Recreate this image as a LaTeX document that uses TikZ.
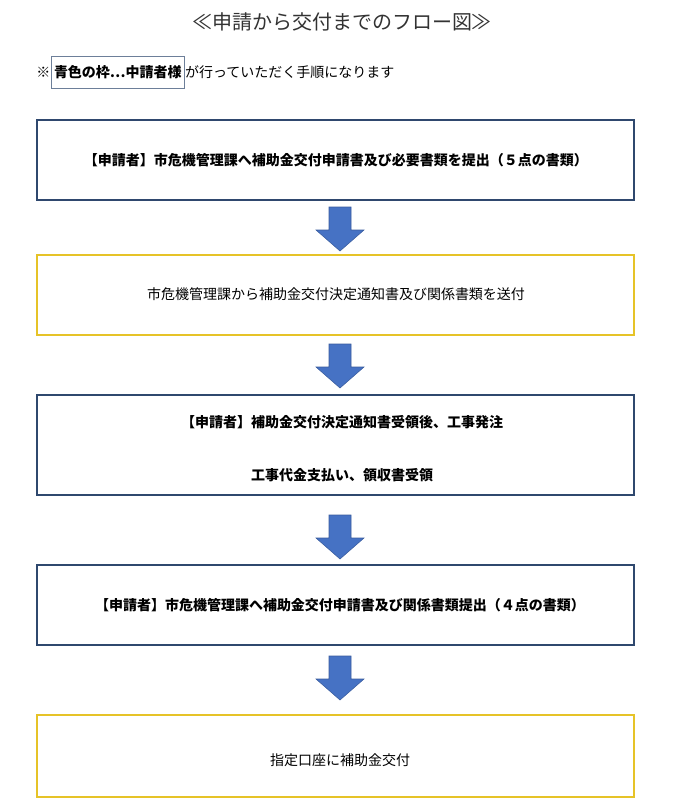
\documentclass[tikz,border=0pt]{standalone}
\usepackage{fontspec}
\newfontfamily\cjk{Noto Sans CJK JP}
\begin{document}
\begin{tikzpicture}[x=0.75pt,y=-0.75pt,
  bluebox/.style={draw=boxblue,line width=1.1pt},
  yelbox/.style={draw=boxyel,line width=0.9pt},
  txt/.style={font=\cjk\fontsize{10.5}{12}\selectfont,inner sep=0pt},
  btxt/.style={font=\cjk\bfseries\fontsize{10.5}{12}\selectfont,inner sep=0pt},
  arr/.style={fill=arrblue,draw=arrblue!80!black,line width=0.4pt}]
\definecolor{boxblue}{RGB}{47,72,110}
\definecolor{boxyel}{RGB}{230,195,40}
\definecolor{arrblue}{RGB}{70,114,196}
\useasboundingbox (0,0) rectangle (673,801);
\node[font=\cjk\fontsize{15}{18}\selectfont,text=black!80] (title) at (342,22) {≪申請から交付までのフロー図≫};
\node[txt,anchor=west] (mark) at (36,72) {※};
\node[btxt,draw=boxblue!70,line width=0.5pt,anchor=west,minimum height=32*0.75pt,inner xsep=2pt] (leg) at (51,72) {青色の枠…中請者様};
\node[txt,anchor=west] (legr) at (leg.east) {が行っていただく手順になります};
\draw[bluebox] (37,120) rectangle (634,200);
\node[btxt] (t1) at (336,160) {【申請者】市危機管理課へ補助金交付申請書及び必要書類を提出（５点の書類）};
\draw[yelbox] (37,255) rectangle (634,335);
\node[txt] (t2) at (336,294) {市危機管理課から補助金交付決定通知書及び関係書類を送付};
\draw[bluebox] (37,395) rectangle (634,495);
\node[btxt] (t3a) at (342,422) {【申請者】補助金交付決定通知書受領後、工事発注};
\node[btxt] (t3b) at (342,475) {工事代金支払い、領収書受領};
\draw[bluebox] (37,565) rectangle (634,645);
\node[btxt] (t4) at (340,605) {【申請者】市危機管理課へ補助金交付申請書及び関係書類提出（４点の書類）};
\draw[yelbox] (37,715) rectangle (634,797);
\node[txt] (t5) at (340,760) {指定口座に補助金交付};
\foreach \y in {207,344,515,656}{
  \draw[arr] (329,\y) -- (351,\y) -- (351,\y+23) -- (364,\y+23) -- (340,\y+44) -- (316,\y+23) -- (329,\y+23) -- cycle;
}
\end{tikzpicture}
\end{document}
